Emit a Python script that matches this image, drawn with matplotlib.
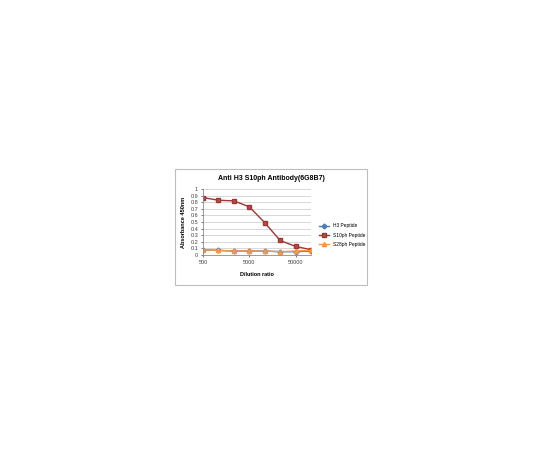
import matplotlib
matplotlib.use('Agg')
import matplotlib.pyplot as plt
from matplotlib.patches import Rectangle

dilutions = ['500', '1000', '2500', '5000', '10000', '25000', '50000', '100000']
h3 = [0.08, 0.07, 0.06, 0.06, 0.06, 0.05, 0.05, 0.06]
s10ph = [0.87, 0.83, 0.82, 0.73, 0.49, 0.22, 0.13, 0.08]
s28ph = [0.08, 0.07, 0.06, 0.06, 0.06, 0.05, 0.06, 0.07]

plt.rcParams['font.family'] = ['Liberation Sans', 'DejaVu Sans']

fig = plt.figure(figsize=(5.4, 4.5), dpi=100)
fig.patches.append(Rectangle((175/540, 1-285/450), 192/540, 116/450,
                             transform=fig.transFigure, fill=False,
                             edgecolor='#bdbdbd', linewidth=0.8))

ax = fig.add_axes([203/540, 1-255/450, 108/540, 66/450])
x = range(len(dilutions))
ax.plot(x, h3, color='#4A7EBB', marker='D', markersize=2.5, linewidth=1, label='H3 Peptide')
ax.plot(x, s10ph, color='#9E3633', marker='s', markersize=3, linewidth=1,
        markerfacecolor='#BE4B48', label='S10ph Peptide')
ax.plot(x, s28ph, color='#F79646', marker='^', markersize=3, linewidth=1, label='S28ph Peptide')

ax.set_xlim(0, len(dilutions)-1)
ax.set_ylim(0, 1)
ax.set_yticks([i/10 for i in range(11)])
ax.set_yticklabels(['0'] + ['%.1f' % (i/10) for i in range(1, 10)] + ['1'])
ax.set_xticks([0, 3, 6])
ax.set_xticklabels([dilutions[0], dilutions[3], dilutions[6]])
ax.tick_params(labelsize=4, length=1.5, width=0.5, pad=2, colors='#404040')
ax.grid(axis='y', color='#c8c8c8', linewidth=0.5)
ax.set_axisbelow(True)
for s in ['top', 'right']:
    ax.spines[s].set_visible(False)
for s in ['left', 'bottom']:
    ax.spines[s].set_color('#8a8a8a')
    ax.spines[s].set_linewidth(0.6)

ax.set_xlabel('Dilution ratio', fontsize=4, fontweight='bold', labelpad=5)
ax.set_ylabel('Absorbance 450nm', fontsize=4, fontweight='bold', labelpad=3)
fig.text(271/540, 1-179/450, 'Anti H3 S10ph Antibody(6G8B7)', fontsize=5,
         fontweight='bold', ha='center', va='center')
ax.legend(loc='center left', bbox_to_anchor=(1.03, 0.3), fontsize=3.5, frameon=False,
          handlelength=2.2, labelspacing=0.9)

fig.savefig('out.png', dpi=100)
